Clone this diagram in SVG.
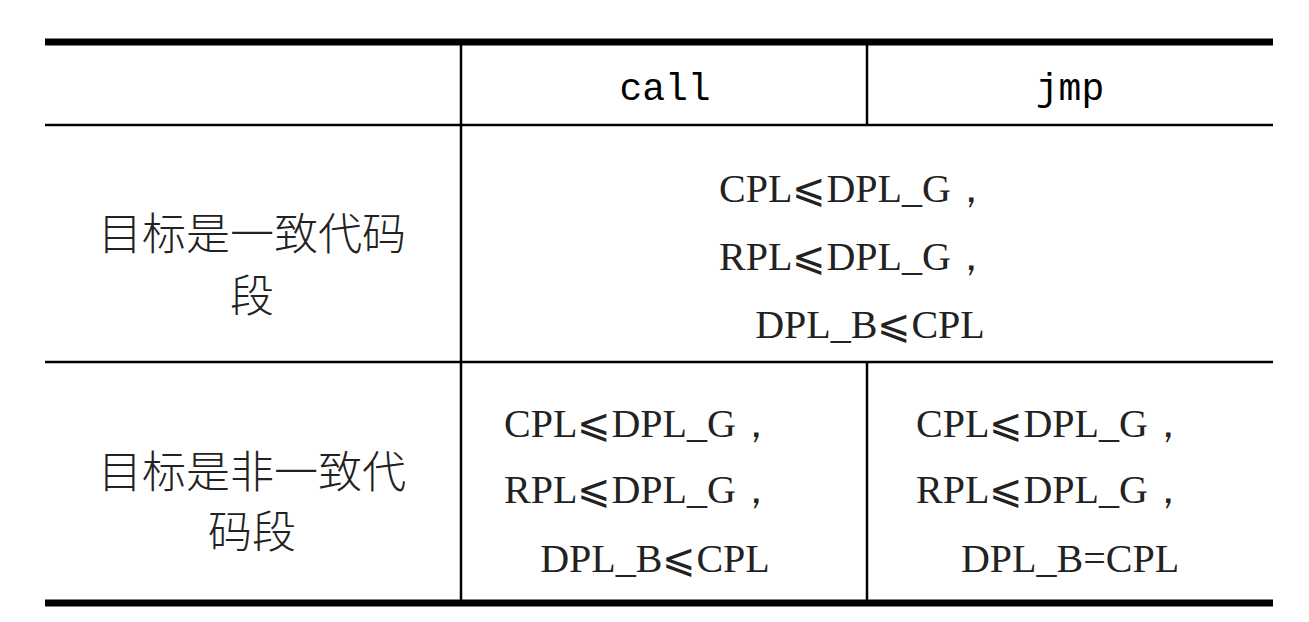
<svg xmlns="http://www.w3.org/2000/svg" width="1309" height="622" viewBox="0 0 1309 622">
<style>
.thick{stroke:#000;stroke-width:7}
.thin{stroke:#000;stroke-width:2.5}
.mono{font-family:"Liberation Mono",monospace;font-size:38px;text-anchor:middle}
.cjk{font-family:"Noto Sans CJK SC",sans-serif;font-size:44px;font-weight:300;text-anchor:middle;fill:#222}
.ser{font-family:"Liberation Serif","DejaVu Serif",serif;font-size:40px;text-anchor:middle;fill:#222}
</style>
<rect width="1309" height="622" fill="#fff"/>
<g id="grid">
<line class="thick" x1="45" y1="42" x2="1273" y2="42"/>
<line class="thick" x1="45" y1="603" x2="1273" y2="603"/>
<line class="thin" x1="45" y1="125" x2="1273" y2="125"/>
<line class="thin" x1="45" y1="362" x2="1273" y2="362"/>
<line class="thin" x1="461" y1="42" x2="461" y2="603"/>
<line class="thin" x1="867" y1="42" x2="867" y2="125"/>
<line class="thin" x1="867" y1="362" x2="867" y2="603"/>
</g>
<g id="header">
<text class="mono" x="665" y="100">call</text>
<text class="mono" x="1070" y="100">jmp</text>
</g>
<g id="row1">
<text class="cjk" x="252" y="250">目标是一致代码</text>
<text class="cjk" x="252" y="312">段</text>
<text class="ser" x="855" y="202">CPL⩽DPL_G，</text>
<text class="ser" x="855" y="270">RPL⩽DPL_G，</text>
<text class="ser" x="870" y="338">DPL_B⩽CPL</text>
</g>
<g id="row2">
<text class="cjk" x="252" y="488">目标是非一致代</text>
<text class="cjk" x="252" y="548">码段</text>
<text class="ser" x="640" y="437">CPL⩽DPL_G，</text>
<text class="ser" x="640" y="503">RPL⩽DPL_G，</text>
<text class="ser" x="655" y="572">DPL_B⩽CPL</text>
<text class="ser" x="1052" y="437">CPL⩽DPL_G，</text>
<text class="ser" x="1052" y="503">RPL⩽DPL_G，</text>
<text class="ser" x="1070" y="572">DPL_B=CPL</text>
</g>
</svg>
